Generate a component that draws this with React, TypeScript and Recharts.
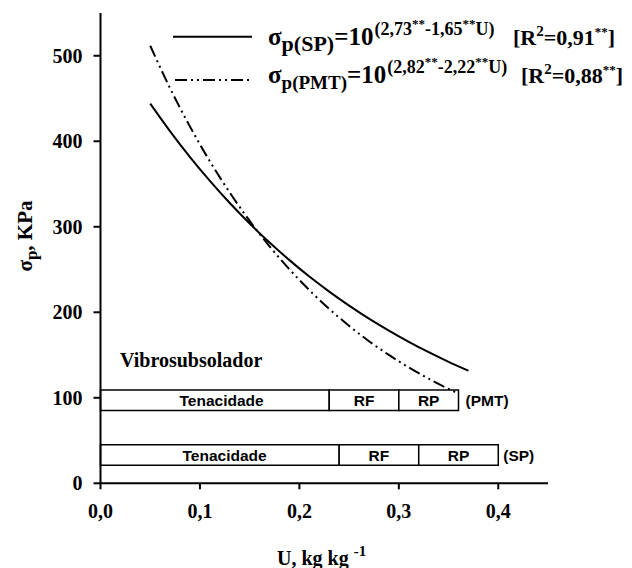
import React from 'react';
import { LineChart, Line, XAxis, YAxis, ReferenceArea, Customized } from 'recharts';

// ---- data ----
const uSP = [0.05, 0.07, 0.09, 0.11, 0.13, 0.15, 0.17, 0.19, 0.21, 0.23, 0.25, 0.27, 0.29, 0.31, 0.33, 0.35, 0.37];
const sigmaSP = [444, 411.6, 381.5, 353.7, 327.8, 303.8, 281.6, 261.0, 241.8, 224.2, 207.8, 192.5, 178.5, 165.4, 153.3, 142.1, 131.7];

const uPMT = [0.05, 0.07, 0.09, 0.11, 0.13, 0.15, 0.17, 0.19, 0.21, 0.23, 0.25, 0.27, 0.29, 0.31, 0.33, 0.35, 0.36];
const sigmaPMT = [511.7, 461.9, 417.1, 376.5, 340.0, 306.9, 277.1, 250.2, 225.9, 203.9, 184.1, 166.2, 150.1, 135.5, 122.3, 110.4, 104.9];

const xTicks = [0, 0.1, 0.2, 0.3, 0.4];
const yTicks = [0, 100, 200, 300, 400, 500];

const zoneLabels = ['Tenacidade', 'RF', 'RP'];
const pmtBounds = [0, 0.23, 0.30, 0.36];
const pmtBand = [85, 109];
const spBounds = [0, 0.24, 0.32, 0.40];
const spBand = [21, 45];

const spData = uSP.map((x, i) => ({ x, y: sigmaSP[i] }));
const pmtData = uPMT.map((x, i) => ({ x, y: sigmaPMT[i] }));

const SERIF = "Liberation Serif, Times New Roman, serif";
const SANS = "Liberation Sans, Arial, sans-serif";

const fmt = (v: number) => v.toFixed(1).replace('.', ',');

const Formula = ({ y, sub, subSize, a, b, r2, bx }: { y: number; sub: string; subSize: number; a: string; b: string; r2: string; bx: number }) => (
  <>
    <text x={260} y={y} fontSize={25}>
      σ<tspan fontSize={subSize} dy={6}>{sub}</tspan>
      <tspan dy={-6}>=10</tspan>
      <tspan dx={1} fontSize={18} dy={-10}>({a}</tspan>
      <tspan fontSize={13} dy={-7}>**</tspan>
      <tspan fontSize={18} dy={7}>-{b}</tspan>
      <tspan fontSize={13} dy={-7}>**</tspan>
      <tspan fontSize={18} dy={7}>U)</tspan>
    </text>
    <text x={bx} y={y} fontSize={22}>
      [R<tspan fontSize={15} dy={-9}>2</tspan>
      <tspan dy={9}>={r2}</tspan>
      <tspan fontSize={13} dy={-9}>**</tspan>
      <tspan dy={9}>]</tspan>
    </text>
  </>
);

const Overlay = () => (
  <g style={{ fontFamily: SERIF }} fontWeight="bold" fill="#000">
    {/* legend swatches */}
    <line x1={165} y1={28.7} x2={244} y2={28.7} stroke="#000" strokeWidth={2} />
    <line x1={167} y1={72} x2={244} y2={72} stroke="#000" strokeWidth={2} strokeDasharray="12 4 2 4 2 4" />
    <Formula y={37} sub="p(SP)" subSize={22} a="2,73" b="1,65" r2="0,91" bx={505} />
    <Formula y={75} sub="p(PMT)" subSize={19} a="2,82" b="2,22" r2="0,88" bx={513} />
    {/* in-plot annotation */}
    <text x={112} y={359} fontSize={20}>Vibrosubsolador</text>
    {/* axis titles */}
    <text x={269} y={557} fontSize={20}>
      U, kg kg<tspan dx={5} dy={-9} fontSize={15}>-1</tspan>
    </text>
    <text transform="translate(24,228) rotate(-90)" textAnchor="middle" fontSize={21}>
      σ<tspan fontSize={17} dy={5}>p</tspan>
      <tspan dy={-5}>, KPa</tspan>
    </text>
  </g>
);

const zoneLabel = (value: string, first: boolean, firstOffset: number) => ({
  value,
  position: first ? ('insideLeft' as const) : ('center' as const),
  offset: first ? firstOffset : 5,
  fill: '#000',
  fontSize: 15.5,
  fontWeight: 'bold',
  fontFamily: SANS,
});

const tagLabel = (value: string, offset: number) => ({
  value,
  position: 'right' as const,
  offset,
  fill: '#000',
  fontSize: 15.5,
  fontWeight: 'bold',
  fontFamily: SANS,
});

export default function App() {
  return (
    <div style={{ width: 624, height: 560 }}>
      <LineChart width={624} height={560} margin={{ top: 5, right: 84, left: 32.5, bottom: 44.7 }}>
        <XAxis
          type="number"
          dataKey="x"
          domain={[0, 0.45]}
          ticks={xTicks}
          tickFormatter={fmt}
          allowDataOverflow
          height={40}
          axisLine={{ stroke: '#000', strokeWidth: 2 }}
          tickLine={{ stroke: '#000', strokeWidth: 2 }}
          tickSize={6}
          tickMargin={14}
          tick={{ fill: '#000', fontSize: 20, fontWeight: 'bold', fontFamily: SERIF }}
        />
        <YAxis
          type="number"
          domain={[0, 550]}
          ticks={yTicks}
          allowDataOverflow
          width={60}
          axisLine={{ stroke: '#000', strokeWidth: 2 }}
          tickLine={{ stroke: '#000', strokeWidth: 2 }}
          tickSize={7}
          tickMargin={11}
          tick={{ fill: '#000', fontSize: 20, fontWeight: 'bold', fontFamily: SERIF }}
        />
        {zoneLabels.map((lab, i) => (
          <ReferenceArea
            key={'pmt' + i}
            x1={pmtBounds[i]}
            x2={pmtBounds[i + 1]}
            y1={pmtBand[0]}
            y2={pmtBand[1]}
            fill="#fff"
            fillOpacity={1}
            stroke="#000"
            strokeWidth={1.5}
            label={zoneLabel(lab, i === 0, 79)}
          />
        ))}
        {zoneLabels.map((lab, i) => (
          <ReferenceArea
            key={'sp' + i}
            x1={spBounds[i]}
            x2={spBounds[i + 1]}
            y1={spBand[0]}
            y2={spBand[1]}
            fill="#fff"
            fillOpacity={1}
            stroke="#000"
            strokeWidth={1.5}
            label={zoneLabel(lab, i === 0, 82)}
          />
        ))}
        <ReferenceArea x1={pmtBounds[0]} x2={pmtBounds[3]} y1={pmtBand[0]} y2={pmtBand[1]} fill="none" stroke="none" label={tagLabel('(PMT)', 7)} />
        <ReferenceArea x1={spBounds[0]} x2={spBounds[3]} y1={spBand[0]} y2={spBand[1]} fill="none" stroke="none" label={tagLabel('(SP)', 5)} />
        <Line data={spData} dataKey="y" type="monotone" stroke="#000" strokeWidth={2} dot={false} isAnimationActive={false} />
        <Line data={pmtData} dataKey="y" type="monotone" stroke="#000" strokeWidth={2} strokeDasharray="12 4 2 4 2 4" dot={false} isAnimationActive={false} />
        <Customized component={Overlay} />
      </LineChart>
    </div>
  );
}
